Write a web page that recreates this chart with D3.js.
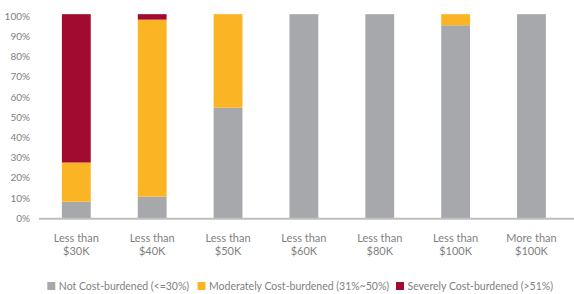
<!DOCTYPE html>
<html>
<head>
<meta charset="utf-8">
<script src="https://cdn.jsdelivr.net/npm/d3@7"></script>
<style>
  body { margin: 0; background: #fff; }
  text { font-family: "Lato", sans-serif; fill: #7f7f7f; }
</style>
</head>
<body>
<div id="chart"></div>
<script>
const categories = ["Less than|$30K", "Less than|$40K", "Less than|$50K", "Less than|$60K",
                    "Less than|$80K", "Less than|$100K", "More than|$100K"];
const notBurdened = [8.2, 10.7, 54.7, 101, 101, 95.5, 101];
const moderately  = [19.4, 87.6, 46.3, 0, 0, 5.5, 0];
const severely    = [73.4, 2.7, 0, 0, 0, 0, 0];
const yTicks = [0, 10, 20, 30, 40, 50, 60, 70, 80, 90, 100];
const seriesNames = ["Not Cost-burdened (<=30%)", "Moderately Cost-burdened (31%~50%)", "Severely Cost-burdened (>51%)"];

const width = 574, height = 294;
const colors = ["#a7a8ab", "#fbb424", "#a20b30"];

const rows = categories.map((c, i) => ({ cat: c, s0: notBurdened[i], s1: moderately[i], s2: severely[i] }));
const stack = d3.stack().keys(["s0", "s1", "s2"])(rows);

const x = d3.scaleBand().domain(categories).range([38.4, 569.4]).paddingInner(0.62).paddingOuter(0.31);
const y = d3.scaleLinear().domain([0, 100]).range([218.3, 16.2]);

const svg = d3.select("#chart").append("svg")
    .attr("width", width).attr("height", height);

// y labels
svg.append("g").selectAll("text")
   .data(yTicks)
   .enter().append("text")
   .attr("x", 30).attr("y", d => y(d))
   .attr("dy", "0.35em")
   .attr("text-anchor", "end")
   .style("font-size", "10px")
   .text(d => d + "%");

svg.append("g").selectAll("g")
   .data(stack)
   .enter().append("g")
   .attr("fill", (d, i) => colors[i])
   .selectAll("rect")
   .data(d => d)
   .enter().append("rect")
   .attr("x", d => x(d.data.cat))
   .attr("width", x.bandwidth())
   .attr("y", d => y(d[1]))
   .attr("height", d => y(d[0]) - y(d[1]));

// base line
svg.append("line")
   .attr("x1", 39).attr("x2", width)
   .attr("y1", y(0) + 0.5).attr("y2", y(0) + 0.5)
   .attr("stroke", "#bfbfbf").attr("stroke-width", 2);

// category labels
const lab = svg.append("g").selectAll("text")
   .data(categories)
   .enter().append("text")
   .attr("x", d => x(d) + x.bandwidth() / 2)
   .attr("y", 242)
   .attr("text-anchor", "middle")
   .style("font-size", "11px");
lab.append("tspan").attr("x", d => x(d) + x.bandwidth() / 2).text(d => d.split("|")[0]);
lab.append("tspan").attr("x", d => x(d) + x.bandwidth() / 2).attr("dy", 13).text(d => d.split("|")[1]);

// legend
const legX = [47.3, 197.5, 396];
const leg = svg.append("g").selectAll("g")
   .data(seriesNames)
   .enter().append("g")
   .attr("transform", (d, i) => `translate(${legX[i]},282)`);
leg.append("rect").attr("width", 8).attr("height", 8).attr("fill", (d, i) => colors[i]);
leg.append("text").attr("x", 11.5).attr("y", 4).attr("dy", "0.35em")
   .style("font-size", "10.5px")
   .text(d => d);
</script>
</body>
</html>
